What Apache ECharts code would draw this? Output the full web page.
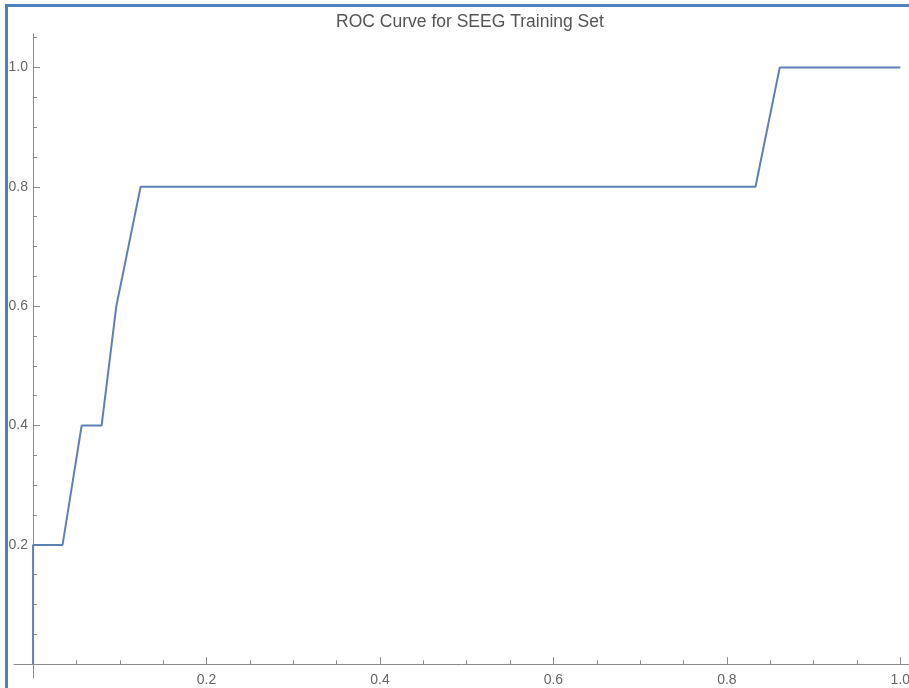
<!DOCTYPE html>
<html>
<head>
<meta charset="utf-8">
<script src="https://cdn.jsdelivr.net/npm/echarts@6/dist/echarts.min.js"></script>
<style>
  html, body { margin: 0; padding: 0; background: #fff; }
  #chart { width: 909px; height: 688px; }
</style>
</head>
<body>
<div id="chart"></div>
<script>
// ROC curve points: false positive rate vs. true positive rate
const fpr = [0, 0, 0.034, 0.056, 0.079, 0.096, 0.124, 0.833, 0.861, 1.0];
const tpr = [0, 0.2, 0.2, 0.4, 0.4, 0.6, 0.8, 0.8, 1.0, 1.0];

// Labelled ticks and the small unlabelled ticks between them
const majorTicks = [0.2, 0.4, 0.6, 0.8, 1.0];
const xMinorTicks = [0.05, 0.1, 0.15, 0.25, 0.3, 0.35, 0.45, 0.5, 0.55, 0.65, 0.7, 0.75, 0.85, 0.9, 0.95];
const yMinorTicks = [0.05, 0.1, 0.15, 0.25, 0.3, 0.35, 0.45, 0.5, 0.55, 0.65, 0.7, 0.75, 0.85, 0.9, 0.95, 1.05];

const titleText = 'ROC Curve for SEEG Training Set';

const X_RANGE = [-0.022, 1.01];
const Y_RANGE = [-0.023, 1.056];
const AXIS_COLOR = '#8a8a8a';
const LABEL_COLOR = '#666';
const FONT = 'Liberation Sans, Arial, sans-serif';

const points = fpr.map((x, i) => [x, tpr[i]]);

// Labels are placed from the grid edge, so the margins pull them back
// next to the axis lines that sit on zero.
function majorAxis(dim) {
  return {
    type: 'value',
    position: dim === 'x' ? 'bottom' : 'left',
    min: dim === 'x' ? X_RANGE[0] : Y_RANGE[0],
    max: dim === 'x' ? X_RANGE[1] : Y_RANGE[1],
    axisLine: { show: true, onZero: true, onZeroAxisIndex: 0, lineStyle: { color: AXIS_COLOR, width: 1 } },
    axisTick: { show: true, inside: true, length: 7, customValues: majorTicks, lineStyle: { color: AXIS_COLOR, width: 1 } },
    axisLabel: {
      show: true,
      customValues: majorTicks,
      formatter: v => Number(v).toFixed(1),
      color: LABEL_COLOR,
      fontFamily: FONT,
      fontSize: 14,
      margin: dim === 'x' ? -5 : -14
    },
    splitLine: { show: false }
  };
}

function minorAxis(dim) {
  return {
    type: 'value',
    position: dim === 'x' ? 'bottom' : 'left',
    min: dim === 'x' ? X_RANGE[0] : Y_RANGE[0],
    max: dim === 'x' ? X_RANGE[1] : Y_RANGE[1],
    axisLine: { show: false, onZero: true, onZeroAxisIndex: 0 },
    axisTick: { show: true, inside: true, length: 4, customValues: dim === 'x' ? xMinorTicks : yMinorTicks, lineStyle: { color: AXIS_COLOR, width: 1 } },
    axisLabel: { show: false },
    splitLine: { show: false }
  };
}

const chart = echarts.init(document.getElementById('chart'), null, { renderer: 'canvas' });
chart.setOption({
  animation: false,
  backgroundColor: '#fff',
  title: {
    text: titleText,
    left: 465,
    textAlign: 'center',
    top: 8,
    textStyle: { color: '#555', fontSize: 17.5, fontWeight: 'normal', fontFamily: FONT }
  },
  grid: { left: 14, right: 0, top: 34, bottom: 10, containLabel: false, outerBoundsMode: 'none' },
  xAxis: [majorAxis('x'), minorAxis('x')],
  yAxis: [majorAxis('y'), minorAxis('y')],
  graphic: [{
    type: 'rect',
    silent: true,
    z: 100,
    shape: { x: 6.5, y: 5.5, width: 920, height: 700 },
    style: { fill: 'none', stroke: '#4f80bf', lineWidth: 3 }
  }],
  series: [{
    type: 'line',
    xAxisIndex: 0,
    yAxisIndex: 0,
    data: points,
    showSymbol: false,
    clip: false,
    lineStyle: { color: '#5e81b5', width: 2 },
    z: 5
  }]
});
</script>
</body>
</html>
